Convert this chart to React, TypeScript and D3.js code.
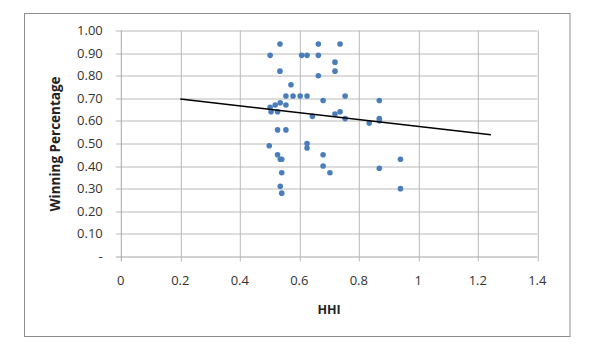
import { useEffect, useRef } from "react";
import * as d3 from "d3";

const WIDTH = 590;
const HEIGHT = 355;
const MARGIN = { top: 30.5, right: 52.7, bottom: 98.6, left: 120.8 };

// HHI (x) and winning percentage (y) per team-season
const hhi = [
  0.535, 0.664, 0.737, 0.502, 0.608, 0.626, 0.664, 0.72, 0.535, 0.72,
  0.664, 0.572, 0.555, 0.579, 0.603, 0.626, 0.754, 0.68, 0.869, 0.536,
  0.519, 0.555, 0.502, 0.505, 0.527, 0.737, 0.72, 0.644, 0.754, 0.869,
  0.869, 0.835, 0.527, 0.555, 0.626, 0.626, 0.499, 0.527, 0.68, 0.536,
  0.541, 0.94, 0.68, 0.869, 0.541, 0.703, 0.536, 0.541, 0.94,
];
const winPct = [
  0.94, 0.94, 0.94, 0.89, 0.89, 0.89, 0.89, 0.86, 0.82, 0.82,
  0.8, 0.76, 0.71, 0.71, 0.71, 0.71, 0.71, 0.69, 0.69, 0.68,
  0.67, 0.67, 0.66, 0.64, 0.64, 0.64, 0.63, 0.62, 0.61, 0.61,
  0.6, 0.59, 0.56, 0.56, 0.5, 0.48, 0.49, 0.45, 0.45, 0.43,
  0.43, 0.43, 0.4, 0.39, 0.37, 0.37, 0.31, 0.28, 0.3,
];

// linear trendline end points
const trendX = [0.2, 1.244];
const trendY = [0.697, 0.539];

const xTicks = [0, 0.2, 0.4, 0.6, 0.8, 1, 1.2, 1.4];
const yTicks = [0, 0.1, 0.2, 0.3, 0.4, 0.5, 0.6, 0.7, 0.8, 0.9, 1.0];

const FONT = "'Open Sans', 'Noto Sans', sans-serif";

export default function App() {
  const ref = useRef(null);

  useEffect(() => {
    const svg = d3.select(ref.current);
    svg.selectAll("*").remove();

    const boundsWidth = WIDTH - MARGIN.left - MARGIN.right;
    const boundsHeight = HEIGHT - MARGIN.top - MARGIN.bottom;

    const xScale = d3.scaleLinear().domain([0, 1.4]).range([0, boundsWidth]);
    const yScale = d3.scaleLinear().domain([0, 1]).range([boundsHeight, 0]);

    // outer chart frame
    svg
      .append("rect")
      .attr("x", 24.5)
      .attr("y", 13.5)
      .attr("width", 545.5)
      .attr("height", 323)
      .attr("fill", "white")
      .attr("stroke", "#8c8c8c")
      .attr("stroke-width", 1);

    const g = svg
      .append("g")
      .attr("transform", `translate(${MARGIN.left},${MARGIN.top})`);

    // gridlines
    g.append("g")
      .selectAll("line")
      .data(yTicks)
      .join("line")
      .attr("x1", -5)
      .attr("x2", boundsWidth)
      .attr("y1", (d) => Math.round(yScale(d)) + 0.5)
      .attr("y2", (d) => Math.round(yScale(d)) + 0.5)
      .attr("stroke", (d) => (d === 0 ? "#a6a6a6" : "#bababa"));

    g.append("g")
      .selectAll("line")
      .data(xTicks)
      .join("line")
      .attr("x1", (d) => Math.round(xScale(d)) + 0.5)
      .attr("x2", (d) => Math.round(xScale(d)) + 0.5)
      .attr("y1", 0)
      .attr("y2", boundsHeight + 5)
      .attr("stroke", (d) => (d === 0 ? "#a6a6a6" : "#bababa"));

    // y tick labels
    g.append("g")
      .selectAll("text")
      .data(yTicks)
      .join("text")
      .attr("x", -18)
      .attr("y", (d) => yScale(d))
      .attr("dy", "0.35em")
      .attr("text-anchor", "end")
      .attr("font-family", FONT)
      .attr("font-size", 13)
      .attr("fill", "#333")
      .text((d) => (d === 0 ? "-" : d3.format(".2f")(d)));

    // x tick labels
    g.append("g")
      .selectAll("text")
      .data(xTicks)
      .join("text")
      .attr("x", (d) => xScale(d))
      .attr("y", boundsHeight + 24)
      .attr("dy", "0.35em")
      .attr("text-anchor", "middle")
      .attr("font-family", FONT)
      .attr("font-size", 13)
      .attr("fill", "#333")
      .text((d) => String(d));

    // axis titles
    g.append("text")
      .attr("x", xScale(0.7))
      .attr("y", boundsHeight + 53)
      .attr("dy", "0.35em")
      .attr("text-anchor", "middle")
      .attr("font-family", FONT)
      .attr("font-weight", "bold")
      .attr("font-size", 12.5)
      .attr("fill", "#222")
      .text("HHI");

    g.append("text")
      .attr("transform", `translate(${-66},${yScale(0.5) + 0.5}) rotate(-90)`)
      .attr("dy", "0.35em")
      .attr("text-anchor", "middle")
      .attr("font-family", FONT)
      .attr("font-weight", "bold")
      .attr("font-size", 13.5)
      .attr("fill", "#222")
      .text("Winning Percentage");

    // points
    g.append("g")
      .selectAll("circle")
      .data(hhi.map((x, i) => [x, winPct[i]]))
      .join("circle")
      .attr("cx", (d) => xScale(d[0]))
      .attr("cy", (d) => yScale(d[1]))
      .attr("r", 2.8)
      .attr("fill", "#4a7ebb");

    // trendline
    const line = d3
      .line<number>()
      .x((d) => xScale(d))
      .y((_, i) => yScale(trendY[i]));
    g.append("path")
      .attr("d", line(trendX))
      .attr("fill", "none")
      .attr("stroke", "black")
      .attr("stroke-width", 1.5);
  }, []);

  return (
    <svg
      ref={ref}
      width={WIDTH}
      height={HEIGHT}
      style={{ position: "absolute", left: 0, top: 0, background: "white" }}
    />
  );
}
